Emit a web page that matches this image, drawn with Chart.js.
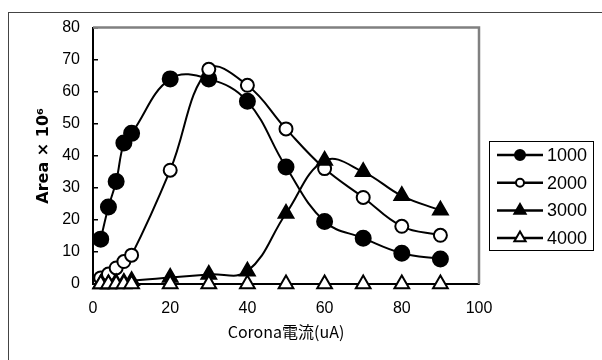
<!DOCTYPE html>
<html>
<head>
<meta charset="utf-8">
<script src="https://cdn.jsdelivr.net/npm/chart.js@4/dist/chart.umd.min.js"></script>
<style>
  html, body { margin: 0; padding: 0; background: #fff; }
  #wrap { width: 602px; height: 360px; }
</style>
</head>
<body>
<div id="wrap"><canvas id="chart" width="602" height="360"></canvas></div>
<script>
// values
const current = [2, 4, 6, 8, 10, 20, 30, 40, 50, 60, 70, 80, 90];
const series1000 = [14, 24, 32, 44, 47, 64, 64, 57, 36.5, 19.5, 14.3, 9.6, 7.8];
const series2000 = [1.9, 3.1, 5, 7, 9, 35.5, 67, 62, 48.4, 36, 27, 18, 15.2];
const series3000 = [0, 0, 0.3, 0.5, 1, 2, 3, 4, 22, 38.5, 35, 27.5, 23];
const series4000 = [0, 0, 0, 0, 0, 0, 0, 0, 0, 0, 0, 0, 0];
const seriesNames = ['1000', '2000', '3000', '4000'];
const yTicks = [0, 10, 20, 30, 40, 50, 60, 70, 80];
const xTicks = [0, 20, 40, 60, 80, 100];

const markers = [
  { style: 'circle', fill: '#000', r: 7.5, lr: 5 },
  { style: 'circle', fill: '#fff', r: 6.5, lr: 4 },
  { style: 'triangle', fill: '#000', r: 8.5, lr: 6.5 },
  { style: 'triangle', fill: '#fff', r: 8.5, lr: 6.5 }
];

function toPoints(vals) {
  return current.map((x, i) => ({ x: x, y: vals[i] }));
}

const allSeries = [series1000, series2000, series3000, series4000];
const datasets = allSeries.map((vals, i) => ({
  label: seriesNames[i],
  data: toPoints(vals),
  borderColor: '#000',
  borderWidth: 2,
  backgroundColor: markers[i].fill,
  pointBackgroundColor: markers[i].fill,
  pointBorderColor: '#000',
  pointBorderWidth: 2,
  pointStyle: markers[i].style,
  pointRadius: markers[i].r,
  pointHoverRadius: markers[i].r,
  tension: 0.4,
  clip: false,
  order: 4 - i
}));

// frame, plot border and legend
const decor = {
  id: 'decor',
  beforeDraw(chart) {
    const ctx = chart.ctx;
    ctx.save();
    ctx.fillStyle = '#fff';
    ctx.fillRect(0, 0, chart.width, chart.height);
    ctx.strokeStyle = '#444';
    ctx.lineWidth = 1;
    ctx.strokeRect(8.5, 12.5, 700, 500);
    ctx.restore();
  },
  beforeDatasetsDraw(chart) {
    const a = chart.chartArea;
    const ctx = chart.ctx;
    ctx.save();
    ctx.strokeStyle = '#808080';
    ctx.lineWidth = 2.5;
    ctx.beginPath();
    ctx.moveTo(a.left, a.top);
    ctx.lineTo(a.right, a.top);
    ctx.lineTo(a.right, a.bottom);
    ctx.stroke();
    ctx.restore();
  },
  afterDraw(chart) {
    const ctx = chart.ctx;
    ctx.save();
    ctx.strokeStyle = '#000';
    ctx.lineWidth = 1;
    ctx.strokeRect(489.5, 141.5, 104, 109);
    ctx.font = '18px "Liberation Sans", Arial, sans-serif';
    ctx.textBaseline = 'middle';
    seriesNames.forEach((name, i) => {
      const y = 155 + i * 27.7;
      ctx.strokeStyle = '#000';
      ctx.lineWidth = 2.5;
      ctx.beginPath();
      ctx.moveTo(497, y);
      ctx.lineTo(543, y);
      ctx.stroke();
      const m = markers[i];
      ctx.fillStyle = m.fill;
      ctx.lineWidth = 2;
      ctx.beginPath();
      if (m.style === 'circle') {
        ctx.arc(520, y, m.lr, 0, Math.PI * 2);
      } else {
        const r = m.lr;
        ctx.moveTo(520, y - r);
        ctx.lineTo(520 + r * 0.866, y + r * 0.5);
        ctx.lineTo(520 - r * 0.866, y + r * 0.5);
        ctx.closePath();
      }
      ctx.fill();
      ctx.stroke();
      ctx.fillStyle = '#000';
      ctx.fillText(name, 547, y + 1);
    });
    ctx.restore();
  }
};

new Chart(document.getElementById('chart'), {
  type: 'line',
  data: { datasets: datasets },
  options: {
    responsive: false,
    animation: false,
    layout: { padding: { top: 25, right: 123, bottom: 0, left: 0 } },
    plugins: {
      legend: { display: false },
      tooltip: { enabled: false }
    },
    scales: {
      x: {
        type: 'linear',
        min: 0,
        max: 100,
        afterFit: s => { s.height = 76; },
        afterBuildTicks: s => { s.ticks = xTicks.map(v => ({ value: v })); },
        border: { display: true, color: '#000', width: 2 },
        grid: { drawOnChartArea: false, drawTicks: true, tickLength: -5, color: '#000', lineWidth: 1.5 },
        ticks: {
          color: '#000',
          padding: 20,
          font: { family: '"Liberation Sans", Arial, sans-serif', size: 16 }
        },
        title: {
          display: true,
          text: 'Corona電流(uA)',
          color: '#000',
          padding: { top: 0, bottom: 18 },
          font: { family: '"Noto Sans CJK JP", sans-serif', size: 16 }
        }
      },
      y: {
        min: 0,
        max: 80,
        afterFit: s => { s.width = 93; },
        afterBuildTicks: s => { s.ticks = yTicks.map(v => ({ value: v })); },
        border: { display: true, color: '#000', width: 2 },
        grid: { drawOnChartArea: false, drawTicks: true, tickLength: -5, color: '#000', lineWidth: 1.5 },
        ticks: {
          color: '#000',
          padding: 18,
          font: { family: '"Liberation Sans", Arial, sans-serif', size: 16 }
        },
        title: {
          display: true,
          text: 'Area × 10⁶',
          color: '#000',
          padding: { top: 34, bottom: 0 },
          font: { family: '"DejaVu Sans", sans-serif', size: 16, weight: 'bold' }
        }
      }
    }
  },
  plugins: [decor]
});
</script>
</body>
</html>
